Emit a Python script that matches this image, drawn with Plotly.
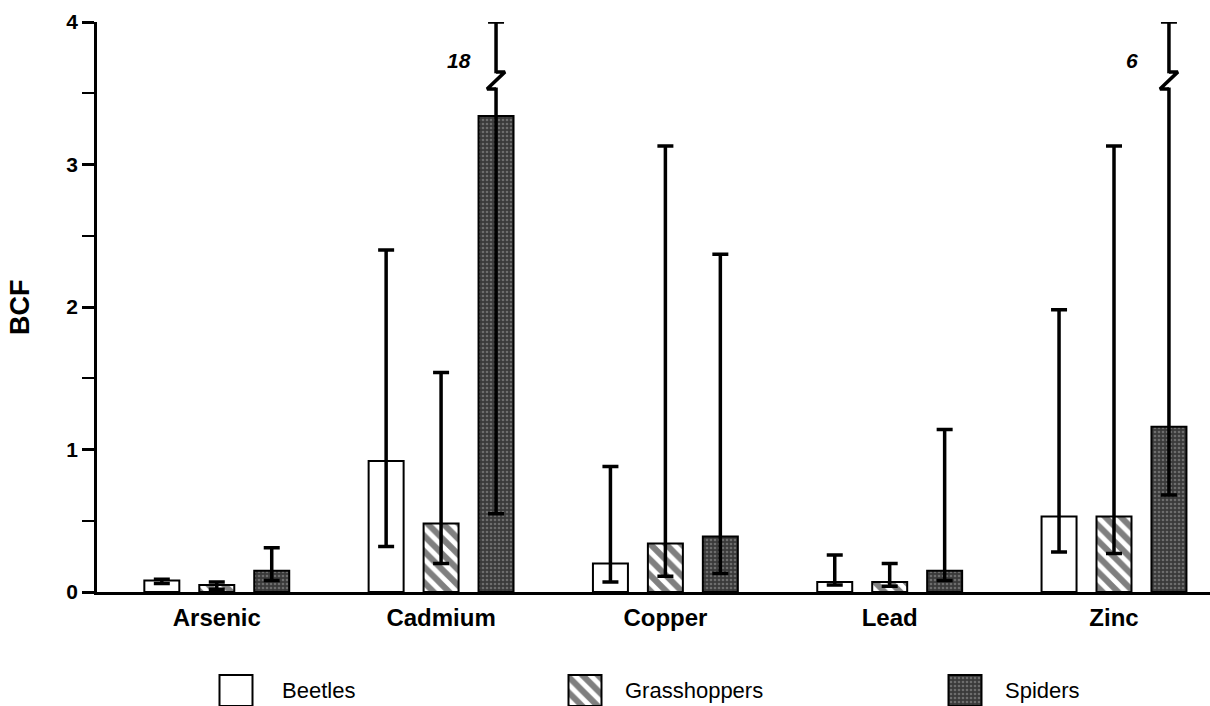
import plotly.graph_objects as go

# ---------------- data ----------------
metals = ["Arsenic", "Cadmium", "Copper", "Lead", "Zinc"]
series_names = ["Beetles", "Grasshoppers", "Spiders"]

beetles_mean = [0.08, 0.92, 0.20, 0.07, 0.53]
beetles_low = [0.06, 0.32, 0.07, 0.05, 0.28]
beetles_high = [0.09, 2.40, 0.88, 0.26, 1.98]

grass_mean = [0.05, 0.48, 0.34, 0.07, 0.53]
grass_low = [0.02, 0.20, 0.11, 0.04, 0.27]
grass_high = [0.07, 1.54, 3.13, 0.20, 3.13]

spider_mean = [0.15, 3.34, 0.39, 0.15, 1.16]
spider_low = [0.08, 0.55, 0.13, 0.08, 0.68]
spider_high = [0.31, 18.0, 2.37, 1.14, 6.0]   # 18 and 6 are off the scale

y_ticks = [0, 1, 2, 3, 4]
Y_MAX = 4.0

# ---------------- style ----------------
OFFSETS = [-0.245, 0.0, 0.245]
BAR_W = 0.156
BRK_LO, BRK_HI = 3.53, 3.65
ZZ = 0.04
FONT = "Liberation Sans, Arial"

styles = [
    dict(color="white", pattern=dict(shape="")),
    dict(color="white", pattern=dict(shape="\\", fgcolor="black", bgcolor="white",
                                     size=11, solidity=0.55)),
    dict(color="#3a3a3a", pattern=dict(shape=".", fgcolor="#a0a0a0", bgcolor="#3a3a3a",
                                       size=4, solidity=0.35)),
]

means = [beetles_mean, grass_mean, spider_mean]
lows = [beetles_low, grass_low, spider_low]
highs = [beetles_high, grass_high, spider_high]

fig = go.Figure()

for s in range(3):
    xs = [i + OFFSETS[s] for i in range(len(metals))]
    hi_drawn = [min(h, Y_MAX) for h in highs[s]]
    fig.add_trace(go.Bar(
        x=xs, y=means[s], width=BAR_W, name=series_names[s], showlegend=False,
        marker=dict(color=styles[s]["color"], pattern=styles[s]["pattern"],
                    line=dict(color="black", width=2)),
        error_y=dict(type="data", symmetric=False,
                     array=[h - m for h, m in zip(hi_drawn, means[s])],
                     arrayminus=[m - l for m, l in zip(means[s], lows[s])],
                     color="black", thickness=3.5, width=8),
        cliponaxis=False,
    ))

# broken (off-scale) error bars for spiders
for i, h in enumerate(spider_high):
    if h > Y_MAX:
        c = i + OFFSETS[2]
        fig.add_trace(go.Scatter(x=[c, c], y=[BRK_LO + 0.01, BRK_HI - 0.01], mode="lines",
                                 line=dict(color="white", width=7), showlegend=False,
                                 hoverinfo="skip", cliponaxis=False))
        fig.add_trace(go.Scatter(x=[c, c - ZZ, c + ZZ, c], y=[BRK_LO, BRK_LO, BRK_HI, BRK_HI],
                                 mode="lines", line=dict(color="black", width=3.5),
                                 showlegend=False, hoverinfo="skip", cliponaxis=False))
        fig.add_annotation(x=c, y=3.73, xref="x", yref="y", text=f"<b><i>{h:g}</i></b>",
                           showarrow=False, xshift=-37,
                           font=dict(family=FONT, size=21, color="black"))

# ---------------- legend drawn as a small keyed panel ----------------
leg_x = [236, 585, 965]
leg_text_x = [280, 623, 1003]
for s in range(3):
    fig.add_trace(go.Bar(
        x=[leg_x[s]], y=[31], width=33, xaxis="x2", yaxis="y2", showlegend=False,
        marker=dict(color=styles[s]["color"], pattern=styles[s]["pattern"],
                    line=dict(color="black", width=2)),
        hoverinfo="skip", cliponaxis=False,
    ))
    fig.add_annotation(x=leg_text_x[s], y=16, xref="x2", yref="y2", text=series_names[s],
                       showarrow=False, xanchor="left", yanchor="middle",
                       font=dict(family=FONT, size=22, color="black"))

# y-axis title
fig.add_annotation(x=0, y=2, xref="paper", yref="y", text="<b>BCF</b>", textangle=-90,
                   showarrow=False, xshift=-77, xanchor="center", yanchor="middle",
                   font=dict(family=FONT, size=27, color="black"))

H = 706
top_m = 22
paper_h = H - top_m
main_bottom = (H - 592) / paper_h

fig.update_layout(
    width=1210, height=H, autosize=False,
    margin=dict(l=97, r=0, t=top_m, b=0, pad=0, autoexpand=False),
    paper_bgcolor="white", plot_bgcolor="white",
    barmode="overlay",
    font=dict(family=FONT, color="black"),
    xaxis=dict(
        range=[-0.534, 4.428], domain=[0, 1],
        tickmode="array", tickvals=list(range(len(metals))),
        ticktext=[f"<b>{m}</b>" for m in metals],
        tickfont=dict(size=24, family=FONT, color="black"),
        showline=True, linecolor="black", linewidth=2.5,
        ticks="", showgrid=False, zeroline=False, ticklabelstandoff=2,
        anchor="y", automargin=False,
    ),
    yaxis=dict(
        range=[0, Y_MAX], domain=[main_bottom, 1],
        tickmode="array", tickvals=y_ticks,
        ticktext=[f"<b>{t}</b>" for t in y_ticks],
        tickfont=dict(size=21, family=FONT, color="black"),
        showline=True, linecolor="black", linewidth=2.5,
        ticks="outside", ticklen=12, tickwidth=2.5, tickcolor="black",
        minor=dict(dtick=0.5, ticks="outside", ticklen=12, tickwidth=2, tickcolor="black",
                   showgrid=False),
        showgrid=False, zeroline=False, anchor="x", automargin=False,
    ),
    xaxis2=dict(range=[97, 1210], domain=[0, 1], anchor="y2", visible=False,
                fixedrange=True, automargin=False),
    yaxis2=dict(range=[0, 34], domain=[0, 34 / paper_h], anchor="x2", visible=False,
                fixedrange=True, automargin=False),
)

fig.write_html("out.html")
